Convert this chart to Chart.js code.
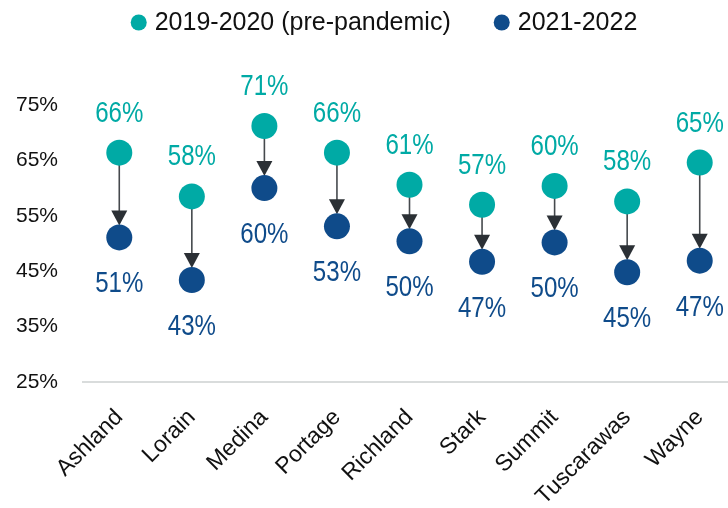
<!DOCTYPE html>
<html>
<head>
<meta charset="utf-8">
<script src="https://cdn.jsdelivr.net/npm/chart.js@4.4.0/dist/chart.umd.min.js"></script>
<style>
  html, body { margin: 0; padding: 0; background: #fff; overflow: hidden; }
</style>
</head>
<body>
<!-- el área del gráfico sobresale un poco por la derecha, como en el original -->
<canvas id="graficoCondados" width="736" height="508"></canvas>
<script>
//* datos
const condados = ['Ashland', 'Lorain', 'Medina', 'Portage', 'Richland', 'Stark', 'Summit', 'Tuscarawas', 'Wayne'];
const series = ['2019-2020 (pre-pandemic)', '2021-2022'];
const valoresAntes = [66.4, 58.5, 71.2, 66.4, 60.6, 57.0, 60.4, 57.6, 64.6];
const valoresDespues = [51.1, 43.4, 60.0, 53.1, 50.4, 46.7, 50.2, 44.8, 46.9];
const etiquetasAntes = ['66%', '58%', '71%', '66%', '61%', '57%', '60%', '58%', '65%'];
const etiquetasDespues = ['51%', '43%', '60%', '53%', '50%', '47%', '50%', '45%', '47%'];
const ticksY = [25, 35, 45, 55, 65, 75];

const colorAntes = '#00aaa5';
const colorDespues = '#0f4b8a';
const radio = 13;

//* flechas entre el punto de antes y el de después
const flechas = {
    id: 'flechas',
    beforeDatasetsDraw(chart) {
        const ctx = chart.ctx;
        const a = chart.getDatasetMeta(0).data;
        const d = chart.getDatasetMeta(1).data;
        ctx.save();
        for (let i = 0; i < a.length; i++) {
            const x0 = a[i].x, y0 = a[i].y;
            const x1 = d[i].x, y1 = d[i].y;
            const punta = y1 - radio + 1;
            const largo = 15, ancho = 8;
            ctx.strokeStyle = '#45494d';
            ctx.lineWidth = 1.6;
            ctx.beginPath();
            ctx.moveTo(x0, y0);
            ctx.lineTo(x1, punta - largo + 1);
            ctx.stroke();
            ctx.fillStyle = '#2b3035';
            ctx.beginPath();
            ctx.moveTo(x1, punta);
            ctx.lineTo(x1 - ancho, punta - largo);
            ctx.lineTo(x1 + ancho, punta - largo);
            ctx.closePath();
            ctx.fill();
        }
        ctx.restore();
    }
};

//* etiquetas de porcentaje encima y debajo de los puntos (letra estrecha)
const etiquetas = {
    id: 'etiquetas',
    afterDatasetsDraw(chart) {
        const ctx = chart.ctx;
        const a = chart.getDatasetMeta(0).data;
        const d = chart.getDatasetMeta(1).data;
        const esc = 0.83;
        const texto = (t, x, y, color) => {
            ctx.save();
            ctx.translate(x, y);
            ctx.scale(esc, 1);
            ctx.fillStyle = color;
            ctx.fillText(t, 0, 0);
            ctx.restore();
        };
        ctx.save();
        ctx.font = '29px "Liberation Sans", Arial, sans-serif';
        ctx.textAlign = 'center';
        ctx.textBaseline = 'alphabetic';
        for (let i = 0; i < a.length; i++) {
            texto(etiquetasAntes[i], a[i].x, a[i].y - 31, colorAntes);
            texto(etiquetasDespues[i], d[i].x, d[i].y + 55, colorDespues);
        }
        ctx.restore();
    }
};

//* leyenda arriba
const leyenda = {
    id: 'leyenda',
    afterDraw(chart) {
        const ctx = chart.ctx;
        ctx.save();
        ctx.font = '25px "Liberation Sans", Arial, sans-serif';
        ctx.textBaseline = 'middle';
        const colores = [colorAntes, colorDespues];
        const w = series.map(s => ctx.measureText(s).width);
        const total = 24 + w[0] + 43 + 24 + w[1];
        let x = (chart.width - total) / 2 + 16;
        const y = 22.5;
        series.forEach((s, i) => {
            ctx.fillStyle = colores[i];
            ctx.beginPath();
            ctx.arc(x + 8, y, 8, 0, Math.PI * 2);
            ctx.fill();
            ctx.fillStyle = '#111';
            ctx.fillText(s, x + 24, y + 1);
            x += 24 + w[i] + 43;
        });
        ctx.restore();
    }
};

const lienzo = document.getElementById('graficoCondados').getContext('2d');

new Chart(lienzo, {
    type: 'line',
    data: {
        labels: condados,
        datasets: [{
            label: series[0],
            data: valoresAntes,
            showLine: false,
            backgroundColor: colorAntes,
            borderColor: colorAntes,
            pointRadius: radio,
            pointHoverRadius: radio,
            pointBorderWidth: 0,
            clip: false
        }, {
            label: series[1],
            data: valoresDespues,
            showLine: false,
            backgroundColor: colorDespues,
            borderColor: colorDespues,
            pointRadius: radio,
            pointHoverRadius: radio,
            pointBorderWidth: 0,
            clip: false
        }]
    },
    options: {
        responsive: false,
        animation: false,
        events: [],
        layout: { autoPadding: false, padding: { top: 105, left: 16, right: 0, bottom: 0 } },
        plugins: {
            legend: { display: false },
            tooltip: { enabled: false }
        },
        scales: {
            x: {
                type: 'category',
                offset: true,
                grid: { display: false, drawTicks: false },
                border: { display: true, color: '#d9dcdc', width: 2 },
                ticks: {
                    color: '#111',
                    font: { family: '"Liberation Sans", Arial, sans-serif', size: 23 },
                    minRotation: 45,
                    maxRotation: 45,
                    padding: 22,
                    autoSkip: false
                },
                afterFit: s => { s.height = 126; s.paddingRight = 0; }
            },
            y: {
                min: 25,
                max: 75,
                grid: { display: false, drawTicks: false },
                border: { display: false },
                afterBuildTicks: s => { s.ticks = ticksY.map(v => ({ value: v })); },
                ticks: {
                    color: '#111',
                    font: { family: '"Liberation Sans", Arial, sans-serif', size: 21 },
                    padding: 25,
                    callback: v => v + '%'
                },
                afterFit: s => { s.width = 67; }
            }
        }
    },
    plugins: [flechas, etiquetas, leyenda]
});
</script>
</body>
</html>
